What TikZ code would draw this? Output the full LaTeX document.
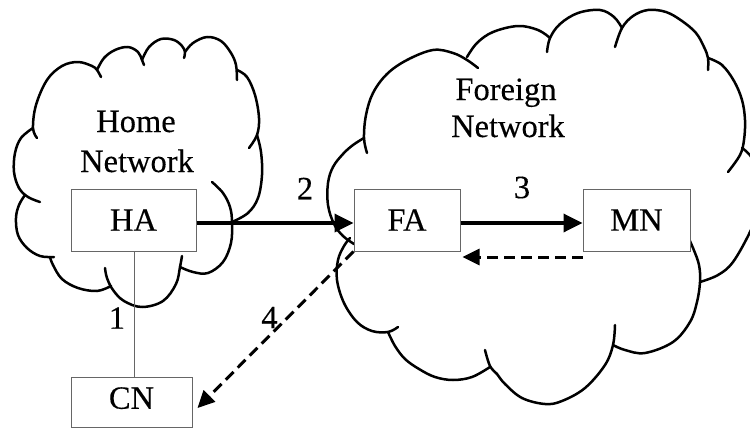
\documentclass[tikz,border=0pt]{standalone}
\usepackage{fontspec}
\setmainfont{Liberation Serif}[FakeBold=0.3]
\usetikzlibrary{arrows.meta}
\begin{document}
\begin{tikzpicture}[x=1pt,y=-1pt,
  cloudline/.style={line width=2.5pt, line join=round, line cap=round},
  bigtext/.style={font=\fontsize{32.5}{38}\selectfont, inner sep=0pt},
  agent/.style={draw=black!60, line width=1pt, fill=white, inner sep=0pt,
    minimum height=62pt, font=\fontsize{32.5}{38}\selectfont},
  msg/.style={line width=3.5pt, -{Triangle[length=19pt,width=18pt]}},
  reply/.style={line width=3pt, dash pattern=on 11pt off 6pt,
    -{Triangle[length=17pt,width=16pt]}},
  wire/.style={draw=black!60, line width=1pt}]

\useasboundingbox (0,0) rectangle (750,428);
\clip (0,0) rectangle (750,428);

% ---- home network cloud ----
\draw[cloudline] plot[smooth, tension=0.6] coordinates {(37,138) (33,128) (36,105) (47,80) (62,66) (78,62) (92,66) (97,70) (101,77)};
\draw[cloudline] plot[smooth, tension=0.6] coordinates {(97,70) (104,58) (115,50) (128,47) (138,52) (142,60) (144,65)};
\draw[cloudline] plot[smooth, tension=0.6] coordinates {(142,60) (149,47) (161,39) (174,40) (182,46) (185,52) (184,58)};
\draw[cloudline] plot[smooth, tension=0.6] coordinates {(185,52) (193,43) (207,37) (221,41) (231,53) (236,65) (237,80)};
\draw[cloudline] plot[smooth, tension=0.6] coordinates {(237,70) (247,77) (255,95) (259,118) (257,135) (249,148)};
\draw[cloudline] plot[smooth, tension=0.6] coordinates {(257,135) (261,152) (262,175) (258,198) (248,213) (232,222)};
\draw[cloudline] plot[smooth, tension=0.6] coordinates {(212,182) (223,193) (230,207) (232,222) (231,243) (223,262) (208,273) (193,272) (180,267)};
\draw[cloudline] plot[smooth, tension=0.6] coordinates {(182,256) (180,267) (176,284) (163,301) (142,307) (124,301) (113,290) (107,278) (105,268)};
\draw[cloudline] plot[smooth, tension=0.6] coordinates {(111,286) (97,291) (78,288) (62,279) (53,265) (50,257)};
\draw[cloudline] plot[smooth, tension=0.6] coordinates {(54,257) (40,256) (27,248) (18,235) (16,218) (19,205) (25,195)};
\draw[cloudline] plot[smooth, tension=0.6] coordinates {(40,202) (28,197) (19,188) (14,172) (15,153) (21,138) (33,128)};

% ---- foreign network cloud ----
\draw[cloudline] plot[smooth, tension=0.6] coordinates {(367,153) (364,138) (366,115) (373,93) (387,74) (407,60) (433,50) (453,53) (467,60) (478,68)};
\draw[cloudline] plot[smooth, tension=0.6] coordinates {(467,57) (477,43) (493,32) (518,26) (538,30) (550,38)};
\draw[cloudline] plot[smooth, tension=0.6] coordinates {(547,52) (550,38) (560,24) (578,13) (600,10) (614,17) (622,28)};
\draw[cloudline] plot[smooth, tension=0.6] coordinates {(615,47) (622,28) (633,16) (648,10) (666,12) (682,21) (696,33) (704,47) (708,58) (708,70)};
\draw[cloudline] plot[smooth, tension=0.6] coordinates {(708,58) (722,65) (734,81) (742,100) (745,120) (744,140) (740,155) (728,172)};
\draw[cloudline] plot[smooth, tension=0.6] coordinates {(742,148) (752,158) (760,180) (759,208) (750,232) (733,262) (718,275) (700,282)};
\draw[cloudline] plot[smooth, tension=0.6] coordinates {(684,228) (693,248) (699,265) (700,282) (697,302) (690,322) (673,342) (645,353) (625,350) (613,345)};
\draw[cloudline] plot[smooth, tension=0.6] coordinates {(615,325) (613,345) (605,365) (585,388) (562,401) (545,404) (522,398) (505,384) (497,374) (490,366) (485,350)};
\draw[cloudline] plot[smooth, tension=0.6] coordinates {(490,367) (472,377) (453,380) (435,377) (419,369) (405,359) (395,346) (388,332)};
\draw[cloudline] plot[smooth, tension=0.6] coordinates {(398,327) (388,332) (372,331) (357,322) (344,303) (337,280) (338,260) (344,246) (350,238)};
\draw[cloudline] plot[smooth, tension=0.6] coordinates {(354,244) (343,236) (334,224) (328,205) (328,183) (333,167) (343,154) (353,145) (364,138)};

% ---- cloud titles ----
\node[bigtext, anchor=base] (homeA) at (136,132) {Home};
\node[bigtext, anchor=base] (homeB) at (137,172) {Network};
\node[bigtext, anchor=base] (foreignA) at (506,100) {Foreign};
\node[bigtext, anchor=base] (foreignB) at (508,137) {Network};

% ---- agents ----
\node[agent, minimum width=125pt] (ha) at (133.5,220) {HA};
\node[agent, minimum width=106pt] (fa) at (407,220) {FA};
\node[agent, minimum width=107pt] (mn) at (636.5,220) {MN};
\node[agent, minimum width=121pt, minimum height=50pt, inner ysep=10.25pt,
  text height=21.5pt, text depth=8pt] (cn) at (131.5,402) {CN};

% ---- messages ----
\draw[wire] (ha.south -| 134,0) -- (cn.north -| 134,0);
\draw[msg] ([yshift=-3pt]ha.east) -- ([yshift=-3pt]fa.west);
\draw[msg] ([yshift=-3pt]fa.east) -- ([yshift=-3pt]mn.west);
\draw[reply] ([yshift=-37pt]mn.west) -- ([shift={(2pt,-37pt)}]fa.east);
\draw[reply] (fa.south west) -- ([shift={(5pt,-6pt)}]cn.east);

% ---- step numbers ----
\node[bigtext] (s1) at (117,318) {1};
\node[bigtext] (s2) at (305,188.5) {2};
\node[bigtext] (s3) at (522,187.5) {3};
\node[bigtext] (s4) at (269.5,317.5) {4};
\end{tikzpicture}
\end{document}
